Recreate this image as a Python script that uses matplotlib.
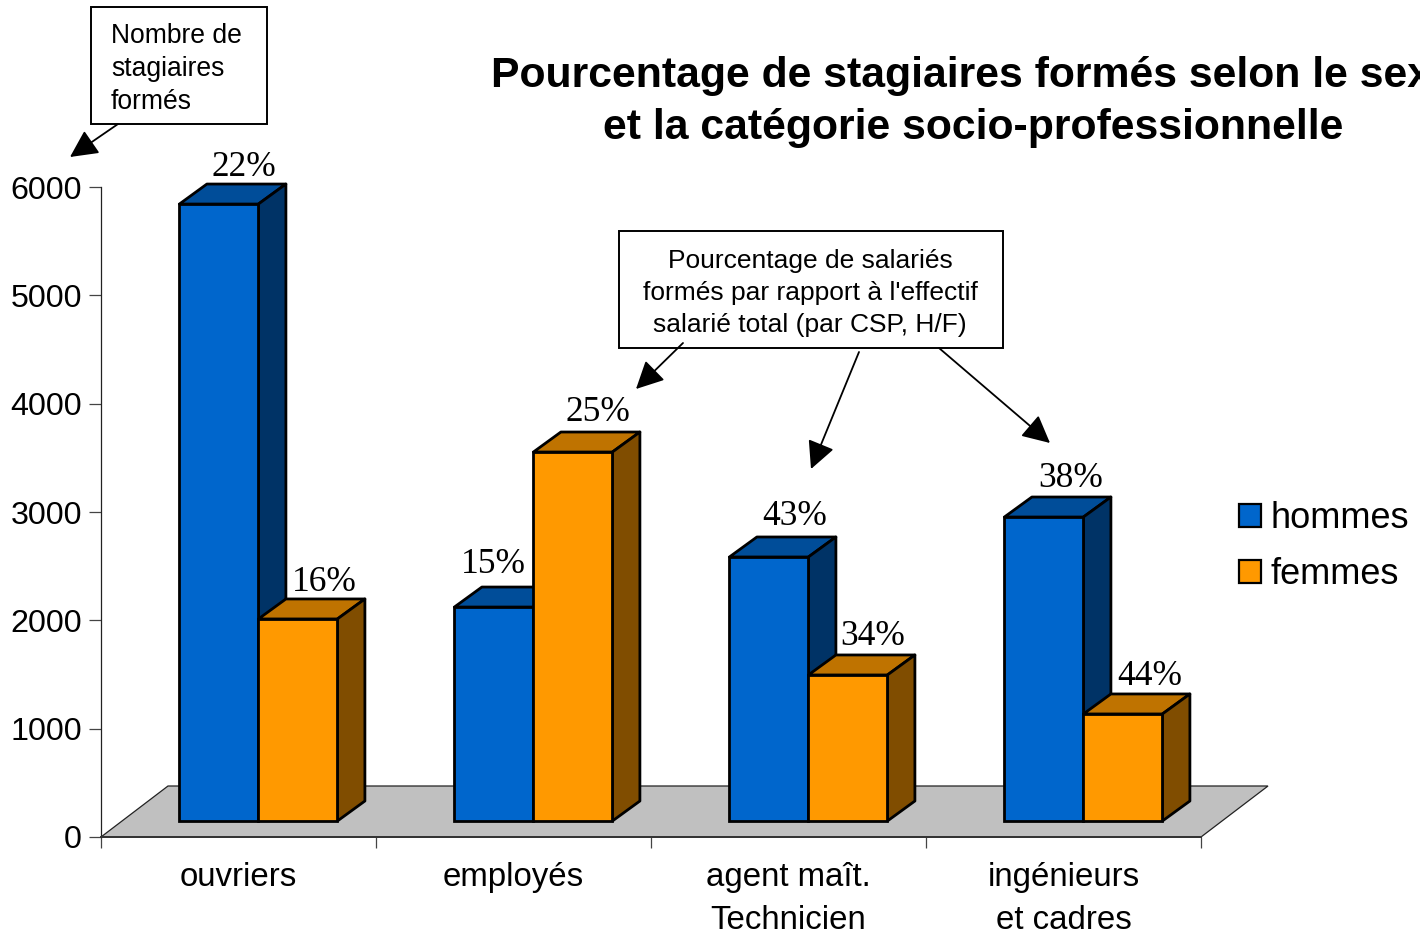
import matplotlib
matplotlib.use('Agg')
import matplotlib.pyplot as plt
from matplotlib.patches import Patch, Rectangle

# Values
categories = ['ouvriers', 'employés', 'agent maît.\nTechnicien', 'ingénieurs\net cadres']
hommes = [5695, 1975, 2437, 2806]
femmes = [1865, 3406, 1348, 988]
pct_hommes = ['22%', '15%', '43%', '38%']
pct_femmes = ['16%', '25%', '34%', '44%']
yticks = [0, 1000, 2000, 3000, 4000, 5000, 6000]

title = 'Pourcentage de stagiaires formés selon le sexe\net la catégorie socio-professionnelle'
note_nombre = 'Nombre de\nstagiaires\nformés'
note_pct = "Pourcentage de salariés\nformés par rapport à l'effectif\nsalarié total (par CSP, H/F)"

# Colours: front, top, side
blue = ('#0066cc', '#004d99', '#003366')
orange = ('#ff9900', '#bf7300', '#804d00')

W, H = 1420, 933
plt.rcParams['font.family'] = ['Liberation Sans', 'DejaVu Sans']

fig = plt.figure(figsize=(W / 100, H / 100), dpi=100)
ax = fig.add_axes([101 / W, (H - 837) / H, 1100 / W, 650 / H])
ax.set_xlim(0, 4)
ax.set_ylim(0, 6000)

# size of one pixel in data units
px = 4 / 1100
py = 6000 / 650

# floor
floor_dx = 67 * px
floor_dy = 51 * py
ax.fill([0, 4, 4 + floor_dx, floor_dx], [0, 0, floor_dy, floor_dy], facecolor='#c0c0c0',
        edgecolor='#222222', linewidth=0.9, clip_on=False, zorder=1)

bar_w = 79 * px
start = 78.4 * px
base = 16 * py
depth_x = 27.5 * px
depth_y = 20 * py


def bar3d(x, value, colors, z):
    top = base + value
    ax.bar(x, value, width=bar_w, bottom=base, align='edge', color=colors[0], edgecolor='black',
           linewidth=2, clip_on=False, zorder=z + 1)
    ax.fill([x, x + bar_w, x + bar_w + depth_x, x + depth_x],
            [top, top, top + depth_y, top + depth_y], facecolor=colors[1], edgecolor='black',
            linewidth=2, clip_on=False, zorder=z, joinstyle='round')
    ax.fill([x + bar_w, x + bar_w + depth_x, x + bar_w + depth_x, x + bar_w],
            [base, base + depth_y, top + depth_y, top], facecolor=colors[2], edgecolor='black',
            linewidth=2, clip_on=False, zorder=z, joinstyle='round')


# label offsets from the middle of the bar front top, in pixels
off_h = [(25, 37), (-1, 43), (26, 40), (27, 39)]
off_f = [(26, 36), (25, 40), (25, 38), (27, 37)]

for i in range(4):
    x = i + start
    bar3d(x, hommes[i], blue, 10 + 4 * i)
    bar3d(x + bar_w, femmes[i], orange, 12 + 4 * i)
    ax.annotate(pct_hommes[i], (x + bar_w / 2, base + hommes[i]), xytext=off_h[i],
                textcoords='offset pixels', ha='center', va='center',
                family='Liberation Serif', fontsize=25.5, zorder=40, annotation_clip=False)
    ax.annotate(pct_femmes[i], (x + 1.5 * bar_w, base + femmes[i]), xytext=off_f[i],
                textcoords='offset pixels', ha='center', va='center',
                family='Liberation Serif', fontsize=25.5, zorder=40, annotation_clip=False)

# axes
ax.spines['top'].set_visible(False)
ax.spines['right'].set_visible(False)
ax.spines['left'].set_linewidth(0.9)
ax.spines['left'].set_color('#222222')
ax.spines['bottom'].set_linewidth(1.4)
ax.spines['bottom'].set_color('#333333')
ax.spines['bottom'].set_zorder(5)
ax.set_yticks(yticks)
ax.tick_params(axis='y', length=8.3, width=0.9, color='#444444', labelsize=23.2, pad=5.5)
ax.set_xticks([0, 1, 2, 3, 4])
ax.set_xticklabels([])
ax.tick_params(axis='x', which='major', length=8, width=0.9, color='#444444')
ax.set_xticks([0.5, 1.5, 2.5, 3.5], labels=categories, minor=True)
ax.tick_params(axis='x', which='minor', length=0, labelsize=23.8, pad=18)
for lab in ax.get_xticklabels(minor=True):
    lab.set_linespacing(1.48)

# legend
handles = [Patch(facecolor=blue[0], edgecolor='black', linewidth=1.6, label='hommes'),
           Patch(facecolor=orange[0], edgecolor='black', linewidth=1.6, label='femmes')]
fig.legend(handles=handles, frameon=False, fontsize=26, loc='upper left',
           bbox_to_anchor=(1228 / W, 1 - 490 / H), handlelength=0.6, handleheight=0.6,
           handletextpad=0.28, labelspacing=0.58, borderpad=0.3, borderaxespad=0)

# title and callouts are placed on an overlay in picture pixels
over = fig.add_axes([0, 0, 1, 1], zorder=50)
over.set_xlim(0, W)
over.set_ylim(H, 0)
over.axis('off')

over.text(973, 102, title, ha='center', va='center', fontsize=30.8, fontweight='bold',
          linespacing=1.37, clip_on=False)

over.add_patch(Rectangle((91, 7), 176, 117, facecolor='white', edgecolor='black', linewidth=1.4))
over.text(111, 69, note_nombre, ha='left', va='center', fontsize=19.1, linespacing=1.33)
over.add_patch(Rectangle((619, 231), 384, 117, facecolor='white', edgecolor='black', linewidth=1.4))
over.text(810, 293, note_pct, ha='center', va='center', fontsize=19, linespacing=1.4)

arrows = [((118, 124), (70, 157)), ((683, 343), (636, 389)),
          ((859, 352), (811, 469)), ((939, 348), (1050, 443))]
for tail, head in arrows:
    over.annotate('', xy=head, xytext=tail,
                  arrowprops=dict(arrowstyle='-|>,head_length=0.68,head_width=0.34', color='black',
                                  linewidth=1.3, mutation_scale=25, shrinkA=0, shrinkB=0))

fig.savefig('out.png', dpi=100)
